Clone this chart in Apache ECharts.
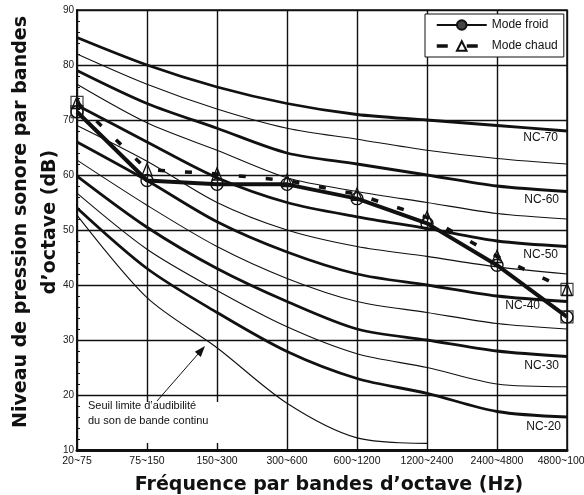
<!DOCTYPE html>
<html><head><meta charset="utf-8">
<script src="https://cdn.jsdelivr.net/npm/echarts@6/dist/echarts.min.js"></script>
<style>html,body{margin:0;padding:0;background:#fff}#c{width:584px;height:495px}</style>
</head><body><div id="c"></div>
<script>
// ---- data ----
const categories = ['20~75','75~150','150~300','300~600','600~1200','1200~2400','2400~4800','4800~10000'];
const yMin = 10, yMax = 90, yStep = 10;
const nc70 = [85, 80, 76, 73, 71, 70, 69, 68];
const nc65 = [82, 76.5, 72, 68.5, 66.5, 64.5, 63, 62];
const nc60 = [79, 73, 68.5, 64, 62, 60, 58, 57];
const nc55 = [76.5, 69.5, 64.5, 59.5, 57, 55, 53, 52];
const nc50 = [72.7, 66, 59.5, 55, 52.4, 50.3, 48, 47];
const nc45 = [69, 62.5, 55, 50, 47, 45.2, 43.3, 42];
const nc40 = [66, 59, 51.5, 46, 42, 40, 38, 37];
const nc35 = [62.7, 54.5, 47, 41.2, 37, 35, 33, 32];
const nc30 = [59.8, 50.5, 43, 37, 32, 30, 28, 27];
const nc25 = [56.7, 46.5, 39, 32.4, 27.5, 25, 22, 21.5];
const nc20 = [54, 43, 35, 27.9, 23, 20.3, 17, 16];
const seuil = [52.7, 37.7, 28.6, 18.5, 12.2, 11.2, null, null];
const modeFroid = [71.5, 59, 58.3, 58.3, 55.7, 51.2, 43.6, 34.2];
const modeChaud = [73.2, 61, 60.2, 59, 56.5, 52.3, 45.2, 39.2];
const thickCurves = [['NC-70', nc70], ['NC-60', nc60], ['NC-50', nc50], ['NC-40', nc40], ['NC-30', nc30], ['NC-20', nc20]];
const thinCurves = [['NC-65', nc65], ['NC-55', nc55], ['NC-45', nc45], ['NC-35', nc35], ['NC-25', nc25], ['Seuil', seuil]];

// ---- chart ----
const INK = '#111';
const FONT = '"Liberation Sans", Arial, sans-serif';
const chart = echarts.init(document.getElementById('c'), null, {renderer: 'canvas'});
const labelOffsets = {'NC-70': [-9, 7], 'NC-60': [-8, 8], 'NC-50': [-9, 8], 'NC-40': [-27, 4], 'NC-30': [-8, 9], 'NC-20': [-6, 10]};
const series = [];
thinCurves.forEach(([name, data]) => {
  series.push({type: 'line', name, data, symbol: 'none', smooth: 0.3, z: 2,
    lineStyle: {color: INK, width: 1.1}, silent: true});
});
thickCurves.forEach(([name, data]) => {
  series.push({type: 'line', name, data, symbol: 'none', smooth: 0.3, z: 2,
    lineStyle: {color: INK, width: 2.8}, silent: true,
    markPoint: {symbol: 'circle', symbolSize: 0, silent: true,
      data: [{coord: [categories.length - 1, data[data.length - 1]]}],
      label: {show: true, position: 'left', distance: 0, offset: labelOffsets[name],
        formatter: name, color: INK, fontSize: 12, fontFamily: FONT}}});
});
series.push({type: 'line', name: 'Mode froid', data: modeFroid, z: 4,
  symbol: 'circle', symbolSize: 12,
  lineStyle: {color: INK, width: 4},
  itemStyle: {color: 'rgba(0,0,0,0)', borderColor: INK, borderWidth: 1.4}});
series.push({type: 'line', name: 'Mode chaud', data: modeChaud, z: 5,
  symbol: 'triangle', symbolSize: [10, 12],
  lineStyle: {color: INK, width: 3.5, type: [7, 20]},
  itemStyle: {color: 'rgba(0,0,0,0)', borderColor: INK, borderWidth: 1.4}});
const lastI = categories.length - 1;
series.push({type: 'scatter', name: 'boxF', z: 6, symbol: 'rect', symbolSize: 12, silent: true,
  data: [[0, modeFroid[0]], [lastI, modeFroid[lastI]]],
  itemStyle: {color: 'rgba(0,0,0,0)', borderColor: INK, borderWidth: 1.2}});
series.push({type: 'scatter', name: 'boxC', z: 6, symbol: 'rect', symbolSize: 12, silent: true,
  data: [[0, modeChaud[0]], [lastI, modeChaud[lastI]]],
  itemStyle: {color: 'rgba(0,0,0,0)', borderColor: INK, borderWidth: 1.2}});

const titleFont = 'bold 19px "DejaVu Sans", sans-serif';
chart.setOption({
  animation: false,
  backgroundColor: '#fff',
  grid: {left: 77, right: 17, top: 10, bottom: 45, show: true, borderColor: INK, borderWidth: 1.5,
    containLabel: false, outerBoundsMode: 'none'},
  legend: {
    data: [
      {name: 'Mode froid', itemStyle: {color: '#444', borderColor: INK}},
      {name: 'Mode chaud', lineStyle: {color: INK, width: 3.5, type: [11, 19]}}
    ],
    orient: 'vertical', left: 425, top: 14,
    backgroundColor: '#fff', borderColor: INK, borderWidth: 1, borderRadius: 0,
    padding: [5, 6, 5, 10], itemGap: 9, itemWidth: 50, itemHeight: 12,
    textStyle: {color: INK, fontSize: 12, fontFamily: FONT}
  },
  xAxis: {
    type: 'category', data: categories, boundaryGap: false,
    axisLine: {lineStyle: {color: INK, width: 3}},
    axisTick: {show: false},
    axisLabel: {color: INK, fontSize: 10.5, fontFamily: FONT, margin: 6, interval: 0, showMaxLabel: true, showMinLabel: true},
    splitLine: {show: true, interval: 0, lineStyle: {color: INK, width: 1.4}}
  },
  yAxis: {
    type: 'value', min: yMin, max: yMax, interval: yStep,
    axisLine: {show: true, lineStyle: {color: INK, width: 2}},
    axisTick: {show: true, inside: true, length: 4, lineStyle: {color: INK}},
    minorTick: {show: true, splitNumber: 5, length: 3, lineStyle: {color: INK}},
    axisLabel: {color: '#222', fontSize: 10, fontFamily: FONT, margin: 3},
    splitLine: {show: true, lineStyle: {color: INK, width: 1.4}}
  },
  series,
  graphic: [
    {type: 'text', x: 21, y: 222, rotation: Math.PI / 2,
      style: {text: 'Niveau de pression sonore par bandes', font: titleFont, fill: INK, align: 'center', verticalAlign: 'middle'}},
    {type: 'text', x: 50, y: 222, rotation: Math.PI / 2,
      style: {text: 'd\u2019octave (dB)', font: titleFont, fill: INK, align: 'center', verticalAlign: 'middle'}},
    {type: 'text', x: 329, y: 485,
      style: {text: 'Fr\u00e9quence par bandes d\u2019octave (Hz)', font: titleFont, fill: INK, align: 'center', verticalAlign: 'middle'}},
    {type: 'rect', shape: {x: 84, y: 402, width: 142, height: 41}, style: {fill: '#fff'}, z: 10},
    {type: 'text', x: 88, y: 413, z: 11,
      style: {text: 'Seuil limite d\u2019audibilit\u00e9\ndu son de bande continu', fontSize: 11, fontFamily: FONT,
        lineHeight: 15, fill: INK, align: 'left', verticalAlign: 'middle'}},
    {type: 'line', z: 11, shape: {x1: 157, y1: 401, x2: 198, y2: 354}, style: {stroke: INK, lineWidth: 1}},
    {type: 'polygon', z: 11, shape: {points: [[205, 346], [200.8, 356.9], [194.8, 351.7]]}, style: {fill: INK}}
  ]
});
</script></body></html>
